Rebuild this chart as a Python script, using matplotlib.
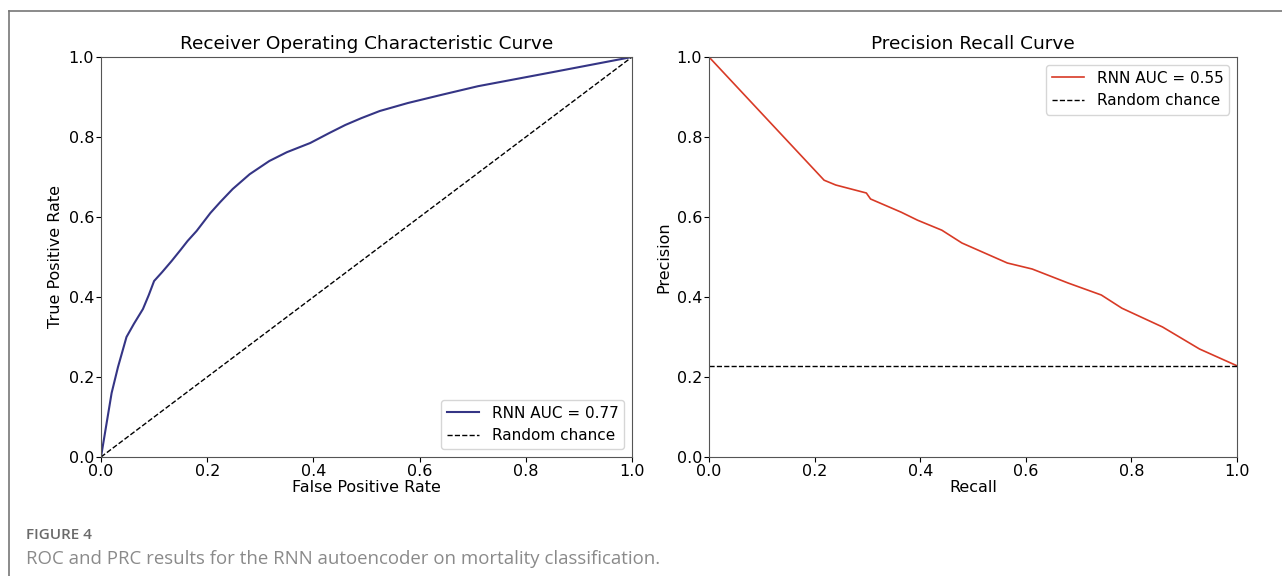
import matplotlib.pyplot as plt
from matplotlib.lines import Line2D

# ROC curve for the RNN autoencoder
roc_fpr = [0.0, 0.010, 0.020, 0.032, 0.048, 0.062, 0.079, 0.090, 0.100, 0.115,
           0.133, 0.150, 0.163, 0.180, 0.206, 0.225, 0.248, 0.280, 0.317, 0.350,
           0.394, 0.430, 0.460, 0.490, 0.525, 0.578, 0.640, 0.710, 0.850, 1.0]
roc_tpr = [0.0, 0.080, 0.160, 0.225, 0.300, 0.333, 0.370, 0.405, 0.440, 0.462,
           0.490, 0.518, 0.540, 0.565, 0.610, 0.638, 0.670, 0.707, 0.740, 0.762,
           0.785, 0.810, 0.830, 0.847, 0.865, 0.885, 0.905, 0.927, 0.962, 1.0]
roc_auc = 0.77

# Precision-recall curve
pr_recall = [0.0, 0.218, 0.240, 0.298, 0.306, 0.364, 0.395, 0.441, 0.479,
             0.565, 0.612, 0.680, 0.743, 0.782, 0.859, 0.929, 1.0]
pr_precision = [1.0, 0.692, 0.680, 0.660, 0.645, 0.612, 0.592, 0.567, 0.535,
                0.485, 0.470, 0.435, 0.405, 0.372, 0.325, 0.270, 0.228]
pr_auc = 0.55
pr_baseline = 0.228

ticks = [0.0, 0.2, 0.4, 0.6, 0.8, 1.0]

fig = plt.figure(figsize=(12.82, 5.76), dpi=100)

# left plot: ROC
ax1 = fig.add_axes([101 / 1282, 1 - 457 / 576, 531 / 1282, 400 / 576])
ax1.plot(roc_fpr, roc_tpr, color='#353585', lw=1.5, label='RNN AUC = %.2f' % roc_auc)
ax1.plot([0, 1], [0, 1], 'k--', lw=1, label='Random chance')
ax1.set_title('Receiver Operating Characteristic Curve', fontsize=13.3)
ax1.set_xlabel('False Positive Rate', fontsize=11.5, labelpad=1)
ax1.set_ylabel('True Positive Rate', fontsize=11.5)
ax1.legend(loc='lower right', fontsize=11, handlelength=2.1)

# right plot: PRC
ax2 = fig.add_axes([709 / 1282, 1 - 457 / 576, 528 / 1282, 400 / 576])
ax2.plot(pr_recall, pr_precision, color='#d83a26', lw=1.2, label='RNN AUC = %.2f' % pr_auc)
ax2.plot([0, 1], [pr_baseline, pr_baseline], 'k--', lw=1, label='Random chance')
ax2.set_title('Precision Recall Curve', fontsize=13.3)
ax2.set_xlabel('Recall', fontsize=11.5, labelpad=1)
ax2.set_ylabel('Precision', fontsize=11.5)
ax2.legend(loc='upper right', fontsize=11, handlelength=2.1)

for ax in (ax1, ax2):
    ax.set_xlim(0, 1)
    ax.set_ylim(0, 1)
    ax.set_xticks(ticks)
    ax.set_yticks(ticks)
    ax.tick_params(labelsize=11.5, pad=1.5)
    for s in ax.spines.values():
        s.set_color('#555555')

# page frame and caption
fig.add_artist(Line2D([9 / 1282, 9 / 1282], [0, 1 - 11 / 576], color='#777777', lw=1.2))
fig.add_artist(Line2D([9 / 1282, 1], [1 - 11 / 576, 1 - 11 / 576], color='#777777', lw=1.2))
fig.text(26 / 1282, 1 - 535 / 576, 'FIGURE 4', fontsize=11, family='Open Sans',
         fontweight='semibold', color='#6a6a6a', va='center')
fig.text(26 / 1282, 1 - 559 / 576,
         'ROC and PRC results for the RNN autoencoder on mortality classification.',
         fontsize=13.4, family='Open Sans', color='#8a8a8a', va='center')

fig.savefig('out.png', dpi=100)
